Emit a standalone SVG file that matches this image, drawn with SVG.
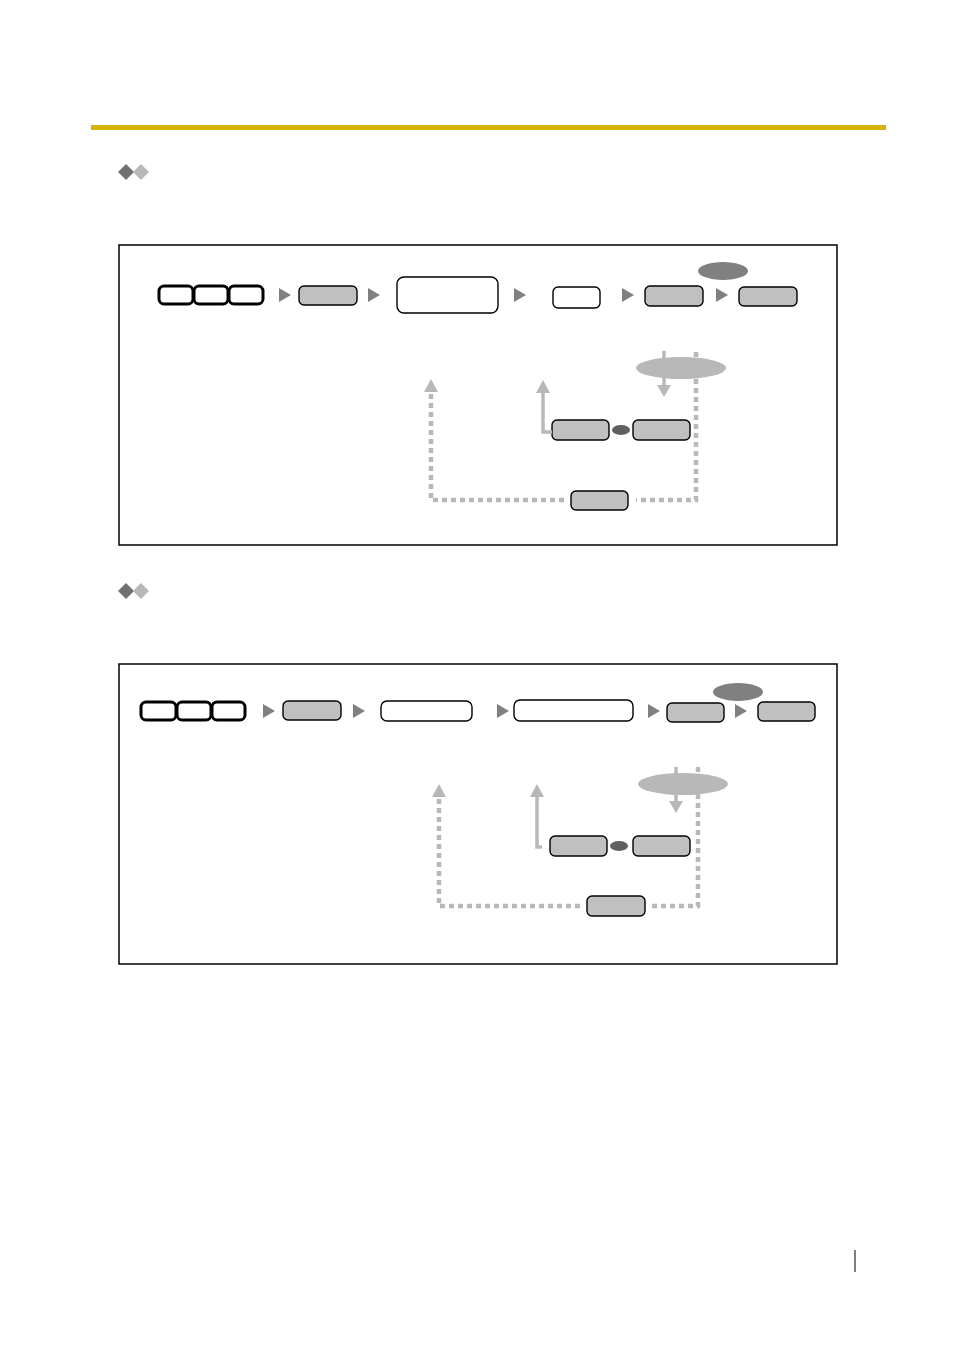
<svg xmlns="http://www.w3.org/2000/svg" width="954" height="1350" viewBox="0 0 954 1350">
<style>
.frame{fill:none;stroke:#000;stroke-width:1.5}
.key{fill:#fff;stroke:#000;stroke-width:3}
.gbtn{fill:#c0c0c0;stroke:#000;stroke-width:1.4}
.wbox{fill:#fff;stroke:#000;stroke-width:1.4}
.tri{fill:#808080}
.dash{fill:none;stroke:#b8b8b8;stroke-width:4.5;stroke-dasharray:5 4}
.solid{fill:none;stroke:#b8b8b8;stroke-width:3.5}
.ah{fill:#b8b8b8}
</style>
<rect x="91" y="125" width="795" height="5" fill="#d6b300"/>

<g id="section1-icon">
<polygon points="126,164 134,172 126,180 118,172" fill="#707070"/>
<polygon points="141,164 149,172 141,180 133,172" fill="#b8b8b8"/>
</g>
<g id="section2-icon">
<polygon points="126,583 134,591 126,599 118,591" fill="#707070"/>
<polygon points="141,583 149,591 141,599 133,591" fill="#b8b8b8"/>
</g>

<rect class="frame" x="119" y="245" width="718" height="300"/>
<rect class="frame" x="119" y="664" width="718" height="300"/>

<!-- Panel 1 nodes -->
<g id="p1-keys">
<rect class="key" x="159" y="286" width="34" height="18" rx="5"/>
<rect class="key" x="194" y="286" width="34" height="18" rx="5"/>
<rect class="key" x="229" y="286" width="34" height="18" rx="5"/>
</g>
<g id="p1-btn1"><rect class="gbtn" x="299" y="286" width="58" height="19" rx="5"/></g>
<g id="p1-box1"><rect class="wbox" x="397" y="277" width="101" height="36" rx="7"/></g>
<g id="p1-box2"><rect class="wbox" x="553" y="287" width="47" height="21" rx="5"/></g>
<g id="p1-btn2"><rect class="gbtn" x="645" y="286" width="58" height="20" rx="5"/></g>
<g id="p1-btn3"><rect class="gbtn" x="739" y="287" width="58" height="19" rx="5"/></g>
<g id="p1-oval"><ellipse cx="723" cy="271" rx="25" ry="9" fill="#808080"/></g>
<g id="p1-lightoval"><ellipse cx="681" cy="368" rx="45" ry="11" fill="#b8b8b8"/></g>
<g id="p1-btn4"><rect class="gbtn" x="552" y="420" width="57" height="20" rx="5"/></g>
<g id="p1-dot"><ellipse cx="621" cy="430" rx="9" ry="5" fill="#606060"/></g>
<g id="p1-btn5"><rect class="gbtn" x="633" y="420" width="57" height="20" rx="5"/></g>
<g id="p1-btn6"><rect class="gbtn" x="571" y="491" width="57" height="19" rx="5"/></g>

<!-- Panel 2 nodes -->
<g id="p2-keys">
<rect class="key" x="141" y="702" width="35" height="18" rx="5"/>
<rect class="key" x="177" y="702" width="34" height="18" rx="5"/>
<rect class="key" x="212" y="702" width="33" height="18" rx="5"/>
</g>
<g id="p2-btn1"><rect class="gbtn" x="283" y="701" width="58" height="19" rx="5"/></g>
<g id="p2-box1"><rect class="wbox" x="381" y="701" width="91" height="20" rx="6"/></g>
<g id="p2-box2"><rect class="wbox" x="514" y="700" width="119" height="21" rx="6"/></g>
<g id="p2-btn2"><rect class="gbtn" x="667" y="703" width="57" height="19" rx="5"/></g>
<g id="p2-btn3"><rect class="gbtn" x="758" y="702" width="57" height="19" rx="5"/></g>
<g id="p2-oval"><ellipse cx="738" cy="692" rx="25" ry="9" fill="#808080"/></g>
<g id="p2-lightoval"><ellipse cx="683" cy="784" rx="45" ry="11" fill="#b8b8b8"/></g>
<g id="p2-btn4"><rect class="gbtn" x="550" y="836" width="57" height="20" rx="5"/></g>
<g id="p2-dot"><ellipse cx="619" cy="846" rx="9" ry="5" fill="#606060"/></g>
<g id="p2-btn5"><rect class="gbtn" x="633" y="836" width="57" height="20" rx="5"/></g>
<g id="p2-btn6"><rect class="gbtn" x="587" y="896" width="58" height="20" rx="5"/></g>

<g id="connectors">
<!-- Panel 1 flow triangles -->
<polygon class="tri" points="279,288 291,295 279,302"/>
<polygon class="tri" points="368,288 380,295 368,302"/>
<polygon class="tri" points="514,288 526,295 514,302"/>
<polygon class="tri" points="622,288 634,295 622,302"/>
<polygon class="tri" points="716,288 728,295 716,302"/>
<!-- Panel 1 loops -->
<line class="solid" x1="664" y1="351" x2="664" y2="386"/>
<polygon class="ah" points="657,385 671,385 664,397"/>
<polyline class="dash" points="696,352 696,500 636,500"/>
<polyline class="dash" points="564,500 431,500 431,392"/>
<polygon class="ah" points="424,392 438,392 431,379"/>
<polyline class="solid" points="552,432 543,432 543,392"/>
<polygon class="ah" points="536,393 550,393 543,380"/>

<!-- Panel 2 flow triangles -->
<polygon class="tri" points="263,704 275,711 263,718"/>
<polygon class="tri" points="353,704 365,711 353,718"/>
<polygon class="tri" points="497,704 509,711 497,718"/>
<polygon class="tri" points="648,704 660,711 648,718"/>
<polygon class="tri" points="735,704 747,711 735,718"/>
<!-- Panel 2 loops -->
<line class="solid" x1="676" y1="767" x2="676" y2="802"/>
<polygon class="ah" points="669,801 683,801 676,813"/>
<polyline class="dash" points="698,767 698,906 652,906"/>
<polyline class="dash" points="580,906 439,906 439,797"/>
<polygon class="ah" points="432,797 446,797 439,784"/>
<polyline class="solid" points="542,847 537,847 537,797"/>
<polygon class="ah" points="530,797 544,797 537,784"/>
</g>

<line x1="855" y1="1250" x2="855" y2="1272" stroke="#000" stroke-width="1"/>
</svg>
